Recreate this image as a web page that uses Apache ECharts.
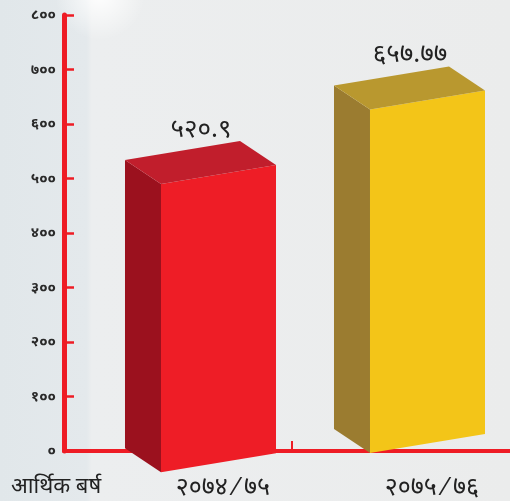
<!DOCTYPE html>
<html><head><meta charset="utf-8">
<script src="https://cdn.jsdelivr.net/npm/echarts@6/dist/echarts.min.js"></script>
<style>html,body{margin:0;padding:0;background:#ECEEEE}#c{width:510px;height:501px}</style>
</head><body><div id="c"></div>
<script>
// ---- data ----
const categories = ['२०७४ ⁄ ७५', '२०७५ ⁄ ७६'];
const values = [520.9, 657.77];
const valueLabels = ['५२०.९', '६५७.७७'];
const yTickValues = [0, 100, 200, 300, 400, 500, 600, 700, 800];
const yTickLabels = ['०', '१००', '२००', '३००', '४००', '५००', '६००', '७००', '८००'];
const axisTitle = 'आर्थिक बर्ष';

// ---- styles ----
const RED = '#EE1C25';
const faceColors = [
  { front: '#EE1D26', side: '#9B111E', top: '#C11E2C' },
  { front: '#F3C518', side: '#9B7C30', top: '#B9982F' }
];
const FONT = '"Noto Sans", "Noto Sans Devanagari", sans-serif';
const GRID_LEFT = 64;

const chart = echarts.init(document.getElementById('c'), null, { renderer: 'canvas' });

const option = {
  backgroundColor: 'transparent',
  animation: false,
  graphic: [
    { type: 'rect', z: -100, silent: true, shape: { x: 0, y: 0, width: 510, height: 501 },
      style: { fill: new echarts.graphic.LinearGradient(0, 0, 1, 0, [
        { offset: 0, color: '#E1E7EA' }, { offset: 0.17, color: '#E4E9EC' },
        { offset: 0.18, color: '#ECEEEF' }, { offset: 1, color: '#EBECEC' }]) } },
    { type: 'circle', z: -99, silent: true, shape: { cx: 100, cy: -5, r: 45 },
      style: { fill: new echarts.graphic.RadialGradient(0.5, 0.5, 0.5, [
        { offset: 0, color: 'rgba(255,255,255,0.95)' }, { offset: 1, color: 'rgba(255,255,255,0)' }]) } },
    { type: 'text', left: 11, top: 476, style: { text: axisTitle, font: '22px ' + FONT, fill: '#222' } }
  ],
  grid: { left: GRID_LEFT, right: 0, top: 15, bottom: 50 },
  xAxis: {
    type: 'value', min: -0.6531, max: 1.4809,
    axisLine: { show: true, onZero: false, lineStyle: { color: RED, width: 4 } },
    axisTick: { show: true, inside: true, length: 10, customValues: [0.4378], lineStyle: { color: RED, width: 2 } },
    axisLabel: { show: false },
    splitLine: { show: false }
  },
  yAxis: {
    type: 'value', min: 0, max: 800, interval: 100,
    axisLine: { show: true, onZero: false, lineStyle: { color: RED, width: 5 } },
    axisTick: { show: true, inside: true, length: 10, lineStyle: { color: RED, width: 2.5 } },
    axisLabel: {
      margin: 8, color: '#2a2a2a', fontSize: 15, fontWeight: 'bold', fontFamily: FONT,
      formatter: v => yTickLabels[yTickValues.indexOf(v)]
    },
    splitLine: { show: false }
  },
  series: [{
    type: 'custom',
    data: values.map((v, i) => [i, v]),
    renderItem: function (params, api) {
      const i = params.dataIndex;
      const p = api.coord([api.value(0), api.value(1)]);
      const z0 = api.coord([api.value(0), 0]);
      const W = 115, D = 36, DR = 24, FS = 19;
      const x0 = p[0] - (W + D) / 2 + D;
      const yt = p[1] + 17;
      const yb = z0[1] + 30 - 0.0913 * (x0 - GRID_LEFT);
      const c = faceColors[i];
      return {
        type: 'group',
        children: [
          { type: 'polygon', shape: { points: [[x0 - D, yt - DR], [x0, yt], [x0, yb], [x0 - D, yb - DR]] }, style: { fill: c.side } },
          { type: 'polygon', shape: { points: [[x0, yt], [x0 + W, yt - FS], [x0 + W, yb - FS], [x0, yb]] }, style: { fill: c.front } },
          { type: 'polygon', shape: { points: [[x0, yt], [x0 + W, yt - FS], [x0 + W - D, yt - FS - DR], [x0 - D, yt - DR]] }, style: { fill: c.top } },
          { type: 'text', style: { text: valueLabels[i], x: x0 + 40, y: yt - 55, align: 'center', verticalAlign: 'middle', font: '26px ' + FONT, fill: '#222' } },
          { type: 'text', style: { text: categories[i], x: x0 + 62, y: z0[1] + 37, align: 'center', verticalAlign: 'middle', font: '25px ' + FONT, fill: '#222' } }
        ]
      };
    }
  }]
};
chart.setOption(option);
</script>
</body></html>
